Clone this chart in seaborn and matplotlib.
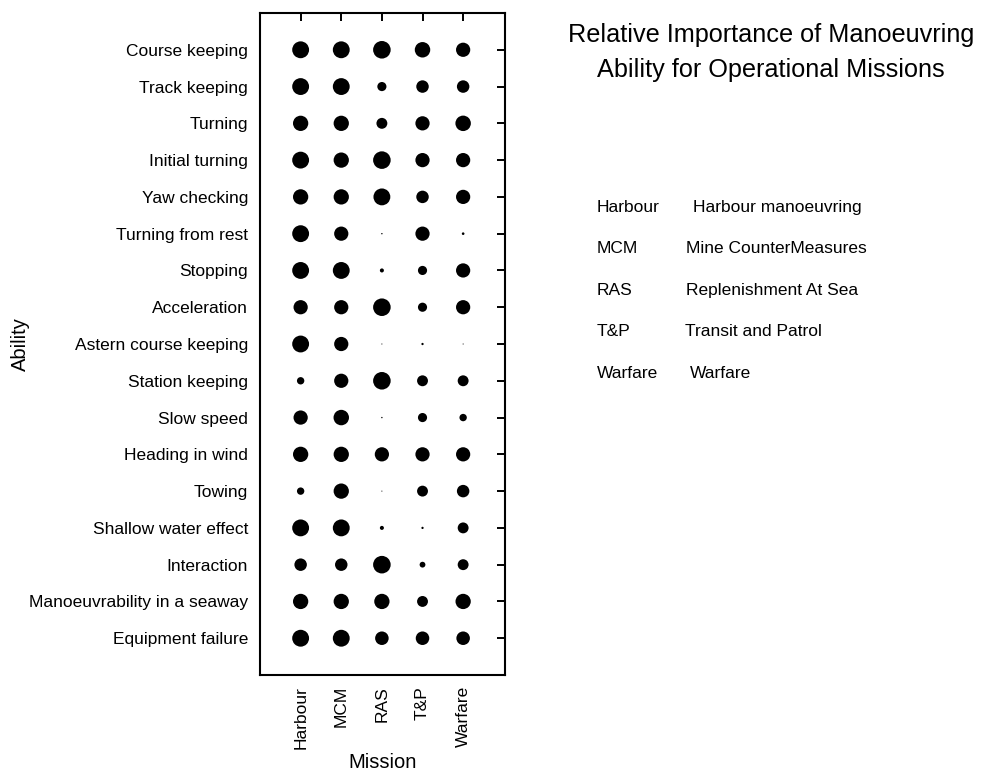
import matplotlib
matplotlib.use("Agg")
import matplotlib.pyplot as plt
import seaborn as sns
import pandas as pd

# Abilities (top to bottom) and missions (left to right)
abilities = [
    "Course keeping", "Track keeping", "Turning", "Initial turning",
    "Yaw checking", "Turning from rest", "Stopping", "Acceleration",
    "Astern course keeping", "Station keeping", "Slow speed",
    "Heading in wind", "Towing", "Shallow water effect", "Interaction",
    "Manoeuvrability in a seaway", "Equipment failure",
]
missions = ["Harbour", "MCM", "RAS", "T&P", "Warfare"]

# Relative importance score (0-10) of each ability, one list per mission
harbour = [9.6, 9.6, 8.7, 9.6, 8.7, 9.6, 9.6, 8.1, 9.6, 4.2, 8.1, 8.7, 4.2, 9.6, 7.1, 8.7, 9.6]
mcm     = [9.6, 9.6, 8.7, 8.7, 8.7, 8.1, 9.6, 8.1, 8.1, 8.1, 8.8, 8.7, 8.7, 9.6, 7.1, 8.7, 9.6]
ras     = [10.0, 5.2, 6.2, 10.0, 9.6, 0.8, 2.3, 10.0, 0.6, 10.0, 0.8, 8.1, 0.6, 2.3, 10.0, 8.7, 7.7]
tp      = [8.8, 7.1, 8.1, 8.1, 7.1, 8.1, 5.2, 5.2, 1.3, 6.2, 5.2, 8.1, 6.2, 1.3, 3.3, 6.2, 7.7]
warfare = [8.1, 7.1, 8.8, 8.1, 8.1, 1.5, 8.1, 8.1, 0.6, 6.2, 4.2, 8.1, 7.1, 6.2, 6.2, 8.7, 7.7]

# Legend entries: abbreviation and full mission name
abbrevs = ["Harbour", "MCM", "RAS", "T&P", "Warfare"]
full_names = ["Harbour manoeuvring", "Mine CounterMeasures",
              "Replenishment At Sea", "Transit and Patrol", "Warfare"]

title_lines = ["Relative Importance of Manoeuvring",
               "Ability for Operational Missions"]

scores = {"Harbour": harbour, "MCM": mcm, "RAS": ras, "T&P": tp, "Warfare": warfare}
df = pd.DataFrame(
    [(m, a, s) for m in missions for a, s in zip(abilities, scores[m])],
    columns=["Mission", "Ability", "score"],
)
# dot diameter proportional to score -> marker area proportional to score squared
df["area"] = df["score"] ** 2

sns.set_style("white")
plt.rcParams["font.family"] = ["Liberation Sans", "DejaVu Sans"]
plt.rcParams["text.color"] = "black"
plt.rcParams["axes.labelcolor"] = "black"
plt.rcParams["xtick.color"] = "black"
plt.rcParams["ytick.color"] = "black"

fig = plt.figure(figsize=(9.89, 7.74), dpi=100)
ax = fig.add_axes([0.2629, 0.1279, 0.2477, 0.8553])

sns.scatterplot(
    data=df, x="Mission", y="Ability", size="area",
    sizes=(0, 160), size_norm=(0, 100), color="black",
    edgecolor="none", linewidth=0, legend=False, ax=ax,
)

ax.set_xlim(-1, 5.03)
ax.set_ylim(len(abilities), -1)

for sp in ax.spines.values():
    sp.set_visible(True)
    sp.set_color("black")
    sp.set_linewidth(1.5)

ax.tick_params(axis="both", which="major", direction="in", length=6, width=1.4,
               color="black", top=True, right=True, labelsize=12.5,
               labelcolor="black")
ax.tick_params(axis="y", pad=8.5)
ax.tick_params(axis="x", pad=8)
plt.setp(ax.get_xticklabels(), rotation=90)

ax.set_xlabel("Mission", fontsize=14.5, color="black")
ax.set_ylabel("Ability", fontsize=14.5, color="black")
ax.xaxis.set_label_coords(0.5, -(762 - 675) / 662)
ax.xaxis.label.set_va("center")
ax.yaxis.set_label_coords(-(260 - 20.5) / 245, 0.5)
ax.yaxis.label.set_va("center")

W, H = 989, 774
fig.text(771 / W, 1 - 41.7 / H, title_lines[0], ha="center", va="baseline",
         fontsize=18.2, color="black")
fig.text(771 / W, 1 - 76.7 / H, title_lines[1], ha="center", va="baseline",
         fontsize=18.2, color="black")

col2_x = [693, 686, 686, 685, 690]
for i, (ab, name) in enumerate(zip(abbrevs, full_names)):
    yb = 1 - (211.7 + 41.6 * i) / H
    fig.text(596.7 / W, yb, ab, ha="left", va="baseline", fontsize=12.5, color="black")
    fig.text(col2_x[i] / W, yb, name, ha="left", va="baseline", fontsize=12.5, color="black")

fig.savefig("out.png", dpi=100, facecolor="white")
